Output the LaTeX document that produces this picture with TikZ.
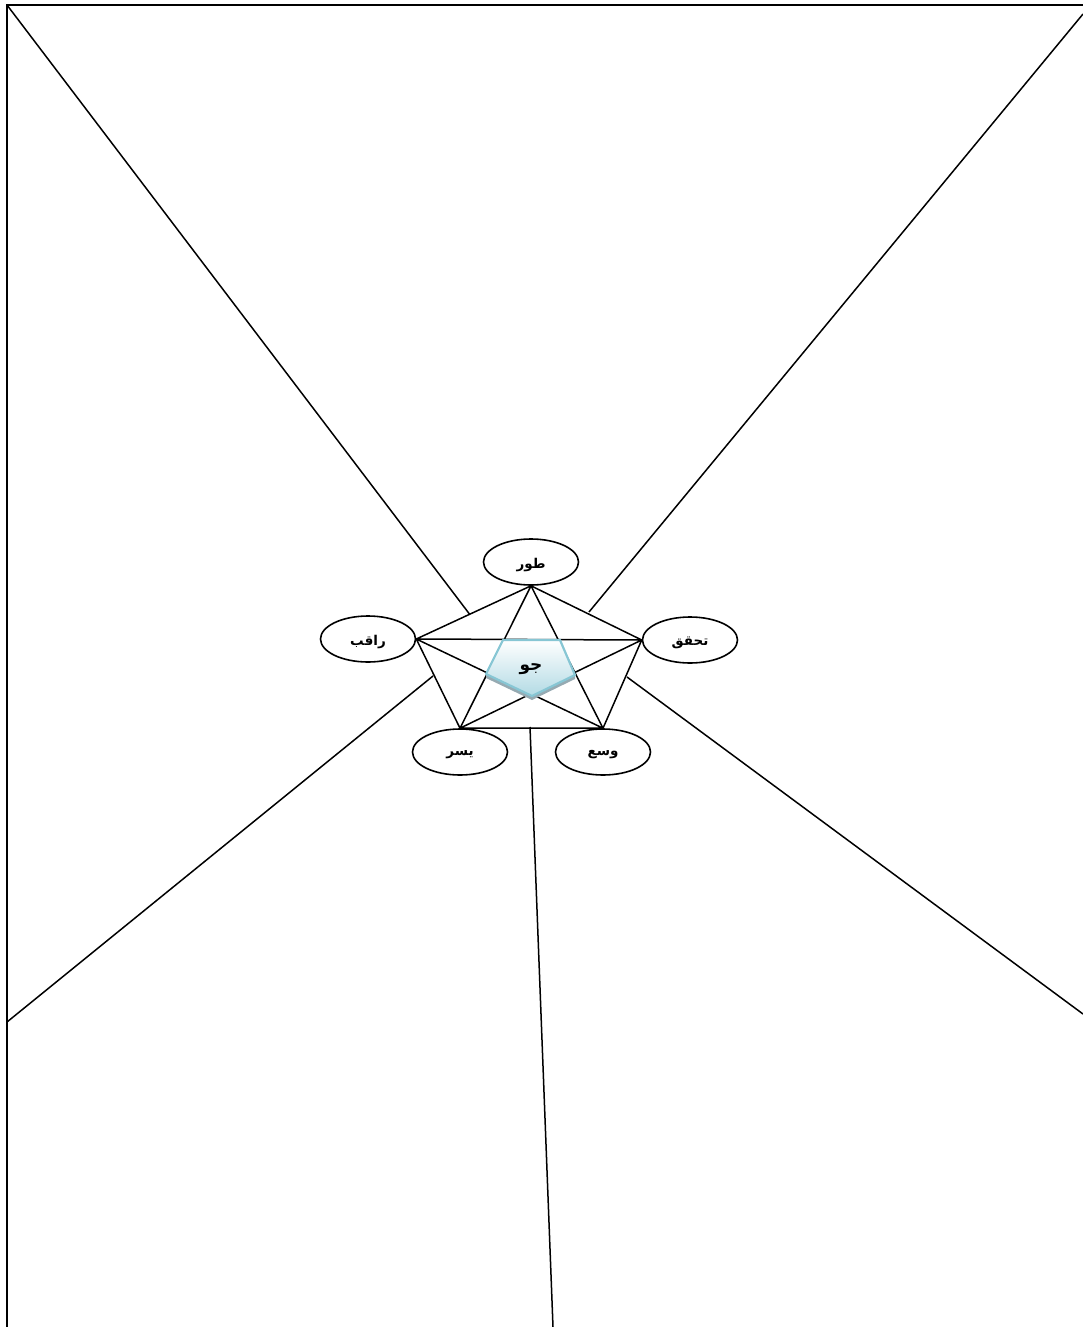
\documentclass[tikz,border=0pt]{standalone}
\usepackage{fontspec}
\newfontfamily\arabicfont[Script=Arabic]{DejaVu Sans}
\TeXXeTstate=1
\usetikzlibrary{shapes.geometric,calc}
\definecolor{penborder}{RGB}{135,198,212}
\definecolor{penbottom}{RGB}{178,218,228}
\definecolor{penshadow}{RGB}{150,170,178}
\tikzset{
  ln/.style={line width=1.5pt, black},
  oval/.style={ellipse, draw, line width=1.6pt, minimum width=95pt, minimum height=46pt, inner sep=0pt, font=\arabicfont\bfseries\fontsize{13.5}{15}\selectfont},
  ovtext/.style={font=\arabicfont\bfseries\fontsize{13.5}{15}\selectfont, inner sep=0pt},
}
\begin{document}
\begin{tikzpicture}[x=1pt,y=-1pt]
\useasboundingbox (0,0) rectangle (1083,1327);
% frame
\coordinate (tl) at (7,5);
\coordinate (tr) at (1083,5);
\coordinate (bl0) at (7,1327);
\draw[ln] (tr) -- (tl) -- (bl0);
% ovals
\node[oval] (t) at (531,562) {};
\node[oval] (l) at (368,639) {};
\node[oval] (r) at (690,640) {};
\node[oval] (d) at (460,752) {};
\node[oval] (e) at (603,752) {};
\node[ovtext] (tt) at ([yshift=-3pt]t.center) {\beginR طور\endR};
\node[ovtext] (lt) at ([yshift=-3pt]l.center) {\beginR راقب\endR};
\node[ovtext] (rt) at ([yshift=-3pt]r.center) {\beginR تحقق\endR};
\node[ovtext] (dt) at ([yshift=-3pt]d.center) {\beginR يسر\endR};
\node[ovtext] (et) at ([yshift=-3pt]e.center) {\beginR وسع\endR};
% K5
\coordinate (pa) at (t.south);
\coordinate (pb) at (l.east);
\coordinate (pc) at (r.west);
\coordinate (pd) at (d.north);
\coordinate (pe) at (e.north);
\draw[ln] (pa) -- (pb) (pa) -- (pc) (pa) -- (pd) (pa) -- (pe)
          (pb) -- (pc) (pb) -- (pd) (pb) -- (pe)
          (pc) -- (pd) (pc) -- (pe) (pd) -- (pe);
% long lines
\coordinate (q1) at ($(pa)!0.535!(pb)$);
\coordinate (q2) at (589,612);
\coordinate (q3) at (433,676);
\coordinate (q4) at (627,677);
\coordinate (q5) at (530,727);
\coordinate (c1) at (1083,14);
\coordinate (c2) at (7,1022);
\coordinate (c3) at (1083,1014);
\coordinate (c4) at (553,1327);
\draw[ln] (tl) -- (q1);
\draw[ln] (c1) -- (q2);
\draw[ln] (c2) -- (q3);
\draw[ln] (c3) -- (q4);
\draw[ln] (c4) -- (q5);
% center pentagon
\coordinate (g1) at (503,640);
\coordinate (g2) at (560,640);
\coordinate (g3) at (575,675);
\coordinate (g4) at (532,696);
\coordinate (g5) at (486,674);
\fill[penshadow] ([yshift=-4pt]g5) -- ([yshift=-4pt]g4) -- ([yshift=-4pt]g3) -- (g3) -- (g4) -- (g5) -- cycle;
\shade[top color=white, bottom color=penbottom, draw=penborder, line width=2.2pt, line join=round]
  (g1) -- (g2) -- (g3) -- (g4) -- (g5) -- cycle;
\node[font=\arabicfont\bfseries\fontsize{17}{19}\selectfont, inner sep=0pt] (j) at (531,669) {\beginR جو\endR};
\end{tikzpicture}
\end{document}
